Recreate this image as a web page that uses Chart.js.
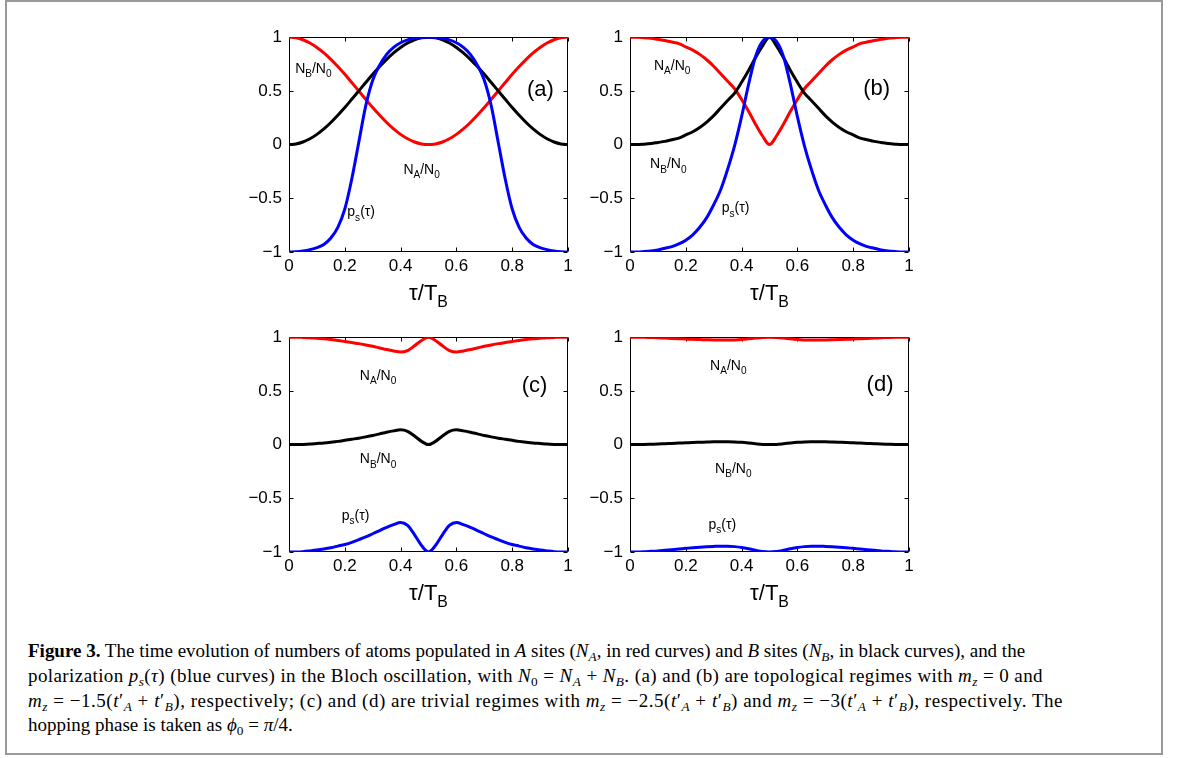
<!DOCTYPE html>
<html>
<head>
<meta charset="utf-8">
<script src="https://cdn.jsdelivr.net/npm/chart.js@4.4.1/dist/chart.umd.min.js"></script>
<style>
  body { margin: 0; width: 1179px; height: 758px; background: #fff; position: relative; overflow: hidden; }
  .border { position: absolute; left: 5px; top: 0; width: 1158px; height: 755px; border: 2px solid #999; box-sizing: border-box; }
  .panel { position: absolute; width: 340px; height: 295px; }
  .ln { position: absolute; left: 28px; white-space: nowrap; font-family: "Liberation Serif", "DejaVu Serif", serif; font-size: 19px; line-height: 20px; color: #000; }
  .ln sub { font-size: 0.7em; vertical-align: -0.28em; line-height: 0; }
</style>
</head>
<body>
<div class="border"></div>
<canvas id="pa" class="panel" width="340" height="295" style="left:240px;top:20px"></canvas>
<canvas id="pb" class="panel" width="340" height="295" style="left:581px;top:20px"></canvas>
<canvas id="pc" class="panel" width="340" height="295" style="left:240px;top:320px"></canvas>
<canvas id="pd" class="panel" width="340" height="295" style="left:581px;top:320px"></canvas>

<div class="ln" data-w="997" style="top:641px"><b>Figure 3.</b> The time evolution of numbers of atoms populated in <i>A</i> sites (<i>N<sub>A</sub></i>, in red curves) and <i>B</i> sites (<i>N<sub>B</sub></i>, in black curves), and the</div>
<div class="ln" data-w="1015" style="top:665.5px">polarization <i>p<sub>s</sub></i>(<i>τ</i>) (blue curves) in the Bloch oscillation, with <i>N</i><sub>0</sub> = <i>N<sub>A</sub></i> + <i>N<sub>B</sub></i>. (a) and (b) are topological regimes with <i>m<sub>z</sub></i> = 0 and</div>
<div class="ln" data-w="1035" style="top:690.5px"><i>m<sub>z</sub></i> = −1.5(<i>t</i>′<sub><i>A</i></sub> + <i>t</i>′<sub><i>B</i></sub>), respectively; (c) and (d) are trivial regimes with <i>m<sub>z</sub></i> = −2.5(<i>t</i>′<sub><i>A</i></sub> + <i>t</i>′<sub><i>B</i></sub>) and <i>m<sub>z</sub></i> = −3(<i>t</i>′<sub><i>A</i></sub> + <i>t</i>′<sub><i>B</i></sub>), respectively. The</div>
<div class="ln" style="top:715px">hopping phase is taken as <i>ϕ</i><sub>0</sub> = <i>π</i>/4.</div>

<script>
// time axis, tau / T_B
const tau = [0, 0.025, 0.05, 0.075, 0.1, 0.125, 0.15, 0.175, 0.2, 0.225, 0.25, 0.275, 0.3, 0.325, 0.35, 0.375, 0.4, 0.425, 0.45, 0.475, 0.5,
  0.525, 0.55, 0.575, 0.6, 0.625, 0.65, 0.675, 0.7, 0.725, 0.75, 0.775, 0.8, 0.825, 0.85, 0.875, 0.9, 0.925, 0.95, 0.975, 1];
const xTicks = [0, 0.2, 0.4, 0.6, 0.8, 1];
const yTicks = [-1, -0.5, 0, 0.5, 1];

// (a) m_z = 0
const redA = [1, 0.994, 0.976, 0.946, 0.905, 0.854, 0.794, 0.727, 0.655, 0.578, 0.5, 0.422, 0.345, 0.273, 0.206, 0.146, 0.095, 0.054, 0.024, 0.006, 0,
  0.006, 0.024, 0.054, 0.095, 0.146, 0.206, 0.273, 0.345, 0.422, 0.5, 0.578, 0.655, 0.727, 0.794, 0.854, 0.905, 0.946, 0.976, 0.994, 1];
const blackA = [0, 0.006, 0.024, 0.054, 0.095, 0.146, 0.206, 0.273, 0.345, 0.422, 0.5, 0.578, 0.655, 0.727, 0.794, 0.854, 0.905, 0.946, 0.976, 0.994, 1,
  0.994, 0.976, 0.946, 0.905, 0.854, 0.794, 0.727, 0.655, 0.578, 0.5, 0.422, 0.345, 0.273, 0.206, 0.146, 0.095, 0.054, 0.024, 0.006, 0];
const blueA = [-1, -0.997, -0.99, -0.978, -0.96, -0.93, -0.87, -0.77, -0.6, -0.32, 0.02, 0.36, 0.6, 0.74, 0.84, 0.905, 0.948, 0.975, 0.99, 0.998, 1,
  0.998, 0.99, 0.975, 0.948, 0.905, 0.84, 0.74, 0.6, 0.36, 0.02, -0.32, -0.6, -0.77, -0.87, -0.93, -0.96, -0.978, -0.99, -0.997, -1];

// (b) m_z = -1.5
const redB = [1, 1, 0.996, 0.99, 0.98, 0.97, 0.955, 0.94, 0.91, 0.88, 0.84, 0.79, 0.73, 0.66, 0.59, 0.52, 0.42, 0.31, 0.19, 0.08, 0,
  0.08, 0.19, 0.31, 0.42, 0.52, 0.59, 0.66, 0.73, 0.79, 0.84, 0.88, 0.91, 0.94, 0.955, 0.97, 0.98, 0.99, 0.996, 1, 1];
const blackB = [0, 0, 0.004, 0.01, 0.02, 0.03, 0.045, 0.06, 0.09, 0.12, 0.16, 0.21, 0.27, 0.34, 0.41, 0.48, 0.58, 0.69, 0.81, 0.92, 1,
  0.92, 0.81, 0.69, 0.58, 0.48, 0.41, 0.34, 0.27, 0.21, 0.16, 0.12, 0.09, 0.06, 0.045, 0.03, 0.02, 0.01, 0.004, 0, 0];
const blueB = [-1, -1, -0.996, -0.99, -0.98, -0.965, -0.95, -0.925, -0.89, -0.84, -0.77, -0.68, -0.56, -0.42, -0.23, -0.01, 0.26, 0.56, 0.82, 0.96, 1,
  0.96, 0.82, 0.56, 0.26, -0.01, -0.23, -0.42, -0.56, -0.68, -0.77, -0.84, -0.89, -0.925, -0.95, -0.965, -0.98, -0.99, -0.996, -1, -1];

// (c) m_z = -2.5
const redC = [1, 1, 0.998, 0.995, 0.99, 0.985, 0.978, 0.97, 0.96, 0.95, 0.94, 0.928, 0.915, 0.9, 0.885, 0.872, 0.862, 0.876, 0.92, 0.97, 1,
  0.97, 0.92, 0.876, 0.862, 0.872, 0.885, 0.9, 0.915, 0.928, 0.94, 0.95, 0.96, 0.97, 0.978, 0.985, 0.99, 0.995, 0.998, 1, 1];
const blackC = [0, 0, 0.002, 0.005, 0.01, 0.015, 0.022, 0.03, 0.04, 0.05, 0.06, 0.072, 0.085, 0.1, 0.115, 0.128, 0.138, 0.124, 0.08, 0.03, 0,
  0.03, 0.08, 0.124, 0.138, 0.128, 0.115, 0.1, 0.085, 0.072, 0.06, 0.05, 0.04, 0.03, 0.022, 0.015, 0.01, 0.005, 0.002, 0, 0];
const blueC = [-1, -1, -0.997, -0.99, -0.982, -0.972, -0.96, -0.945, -0.93, -0.91, -0.885, -0.86, -0.83, -0.8, -0.77, -0.745, -0.725, -0.752, -0.84, -0.94, -1,
  -0.94, -0.84, -0.752, -0.725, -0.745, -0.77, -0.8, -0.83, -0.86, -0.885, -0.91, -0.93, -0.945, -0.96, -0.972, -0.982, -0.99, -0.997, -1, -1];

// (d) m_z = -3
const redD = [1, 1, 0.999, 0.997, 0.995, 0.992, 0.989, 0.986, 0.983, 0.98, 0.978, 0.976, 0.974, 0.973, 0.973, 0.975, 0.979, 0.985, 0.992, 0.998, 1,
  0.998, 0.992, 0.985, 0.979, 0.975, 0.973, 0.973, 0.974, 0.976, 0.978, 0.98, 0.983, 0.986, 0.989, 0.992, 0.995, 0.997, 0.999, 1, 1];
const blackD = [0, 0, 0.001, 0.003, 0.005, 0.008, 0.011, 0.014, 0.017, 0.02, 0.022, 0.024, 0.026, 0.027, 0.027, 0.025, 0.021, 0.015, 0.008, 0.002, 0,
  0.002, 0.008, 0.015, 0.021, 0.025, 0.027, 0.027, 0.026, 0.024, 0.022, 0.02, 0.017, 0.014, 0.011, 0.008, 0.005, 0.003, 0.001, 0, 0];
const blueD = [-1, -1, -0.998, -0.994, -0.99, -0.984, -0.978, -0.972, -0.966, -0.96, -0.955, -0.951, -0.948, -0.946, -0.946, -0.95, -0.958, -0.97, -0.984, -0.996, -1,
  -0.996, -0.984, -0.97, -0.958, -0.95, -0.946, -0.946, -0.948, -0.951, -0.955, -0.96, -0.966, -0.972, -0.978, -0.984, -0.99, -0.994, -0.998, -1, -1];

const SANS = '"Liberation Sans", Arial, sans-serif';
Chart.defaults.font.family = SANS;
Chart.defaults.font.size = 17;
Chart.defaults.color = '#000';

// text pieces: [string, isSubscript]
const NA = [['N'], ['A', 1], ['/N'], ['0', 1]];
const NB = [['N'], ['B', 1], ['/N'], ['0', 1]];
const PS = [['p'], ['s', 1], ['(τ)']];
const XT = [['τ/T'], ['B', 1]];

function richWidth(ctx, parts, size) {
  let w = 0;
  parts.forEach(([s, sub]) => {
    ctx.font = (sub ? size * 0.72 : size) + 'px ' + SANS;
    w += ctx.measureText(s).width;
  });
  return w;
}

function drawRich(ctx, parts, x, y, size) {
  let cx = x;
  parts.forEach(([s, sub]) => {
    ctx.font = (sub ? size * 0.72 : size) + 'px ' + SANS;
    ctx.fillText(s, cx, sub ? y + size * 0.3 : y);
    cx += ctx.measureText(s).width;
  });
}

function fmt(v) {
  const r = +v.toFixed(2);
  return r < 0 ? '\u2212' + String(-r) : String(r);
}

// box, inward ticks, curve labels and x-axis title
const framePlugin = {
  id: 'frame',
  beforeDatasetsDraw(chart) {
    const { ctx, chartArea: a, scales: { x, y } } = chart;
    const L = Math.round(a.left) + 0.5, R = Math.round(a.right) - 0.5;
    const T = Math.round(a.top) + 0.5, B = Math.round(a.bottom) - 0.5;
    ctx.save();
    ctx.strokeStyle = '#000';
    ctx.lineWidth = 1;
    ctx.strokeRect(L, T, R - L, B - T);
    ctx.beginPath();
    xTicks.forEach(v => {
      const px = Math.round(x.getPixelForValue(v)) + 0.5;
      ctx.moveTo(px, B); ctx.lineTo(px, B - 4);
      ctx.moveTo(px, T); ctx.lineTo(px, T + 4);
    });
    yTicks.forEach(v => {
      const py = Math.round(y.getPixelForValue(v)) + 0.5;
      ctx.moveTo(L, py); ctx.lineTo(L + 4, py);
      ctx.moveTo(R, py); ctx.lineTo(R - 4, py);
    });
    ctx.stroke();
    ctx.restore();
  },
  afterDatasetsDraw(chart, args, opts) {
    const { ctx, chartArea: a, scales: { x, y } } = chart;
    ctx.save();
    ctx.fillStyle = '#000';
    ctx.textBaseline = 'alphabetic';
    ctx.textAlign = 'left';
    opts.notes.forEach(n => {
      drawRich(ctx, n.parts, x.getPixelForValue(n.x), y.getPixelForValue(n.y), n.size || 14);
    });
    const w = richWidth(ctx, XT, 22);
    drawRich(ctx, XT, (a.left + a.right) / 2 - w / 2, a.bottom + 48, 22);
    ctx.restore();
  }
};

function makePanel(id, red, black, blue, notes) {
  const pts = arr => tau.map((t, i) => ({ x: t, y: arr[i] }));
  const line = (arr, color) => ({
    data: pts(arr),
    borderColor: color,
    borderWidth: 3,
    pointRadius: 0,
    fill: false,
    cubicInterpolationMode: 'monotone'
  });
  new Chart(document.getElementById(id), {
    type: 'line',
    data: {
      datasets: [line(blue, '#0000ff'), line(black, '#000000'), line(red, '#ff0000')]
    },
    options: {
      responsive: false,
      animation: false,
      layout: { padding: { top: 13, right: 12, left: 0, bottom: 0 } },
      plugins: {
        legend: { display: false },
        tooltip: { enabled: false },
        frame: { notes: notes }
      },
      scales: {
        x: {
          type: 'linear', min: 0, max: 1,
          grid: { display: false, drawTicks: false },
          border: { display: false },
          ticks: { stepSize: 0.2, padding: 4, maxRotation: 0, callback: fmt },
          afterFit: s => { s.height = 63; }
        },
        y: {
          type: 'linear', min: -1, max: 1,
          grid: { display: false, drawTicks: false },
          border: { display: false },
          ticks: { stepSize: 0.5, padding: 7, callback: fmt },
          afterFit: s => { s.width = 49; }
        }
      }
    },
    plugins: [framePlugin]
  });
}

makePanel('pa', redA, blackA, blueA, [
  { parts: NB, x: 0.022, y: 0.67 },
  { parts: [['(a)']], x: 0.853, y: 0.45, size: 22 },
  { parts: NA, x: 0.41, y: -0.276 },
  { parts: PS, x: 0.209, y: -0.668 }
]);
makePanel('pb', redB, blackB, blueB, [
  { parts: NA, x: 0.086, y: 0.692 },
  { parts: [['(b)']], x: 0.836, y: 0.465, size: 22 },
  { parts: NB, x: 0.072, y: -0.221 },
  { parts: PS, x: 0.329, y: -0.632 }
]);
makePanel('pc', redC, blackC, blueC, [
  { parts: NA, x: 0.254, y: 0.601 },
  { parts: [['(c)']], x: 0.834, y: 0.49, size: 22 },
  { parts: NB, x: 0.254, y: -0.175 },
  { parts: PS, x: 0.189, y: -0.70 }
]);
makePanel('pd', redD, blackD, blueD, [
  { parts: NA, x: 0.287, y: 0.692 },
  { parts: [['(d)']], x: 0.848, y: 0.5, size: 22 },
  { parts: NB, x: 0.305, y: -0.267 },
  { parts: PS, x: 0.281, y: -0.784 }
]);

// stretch the caption lines to their ragged-right widths
document.querySelectorAll('.ln[data-w]').forEach(el => {
  const target = +el.dataset.w;
  const w = el.getBoundingClientRect().width;
  const n = el.textContent.length;
  el.style.letterSpacing = ((target - w) / n).toFixed(3) + 'px';
});
</script>
</body>
</html>
